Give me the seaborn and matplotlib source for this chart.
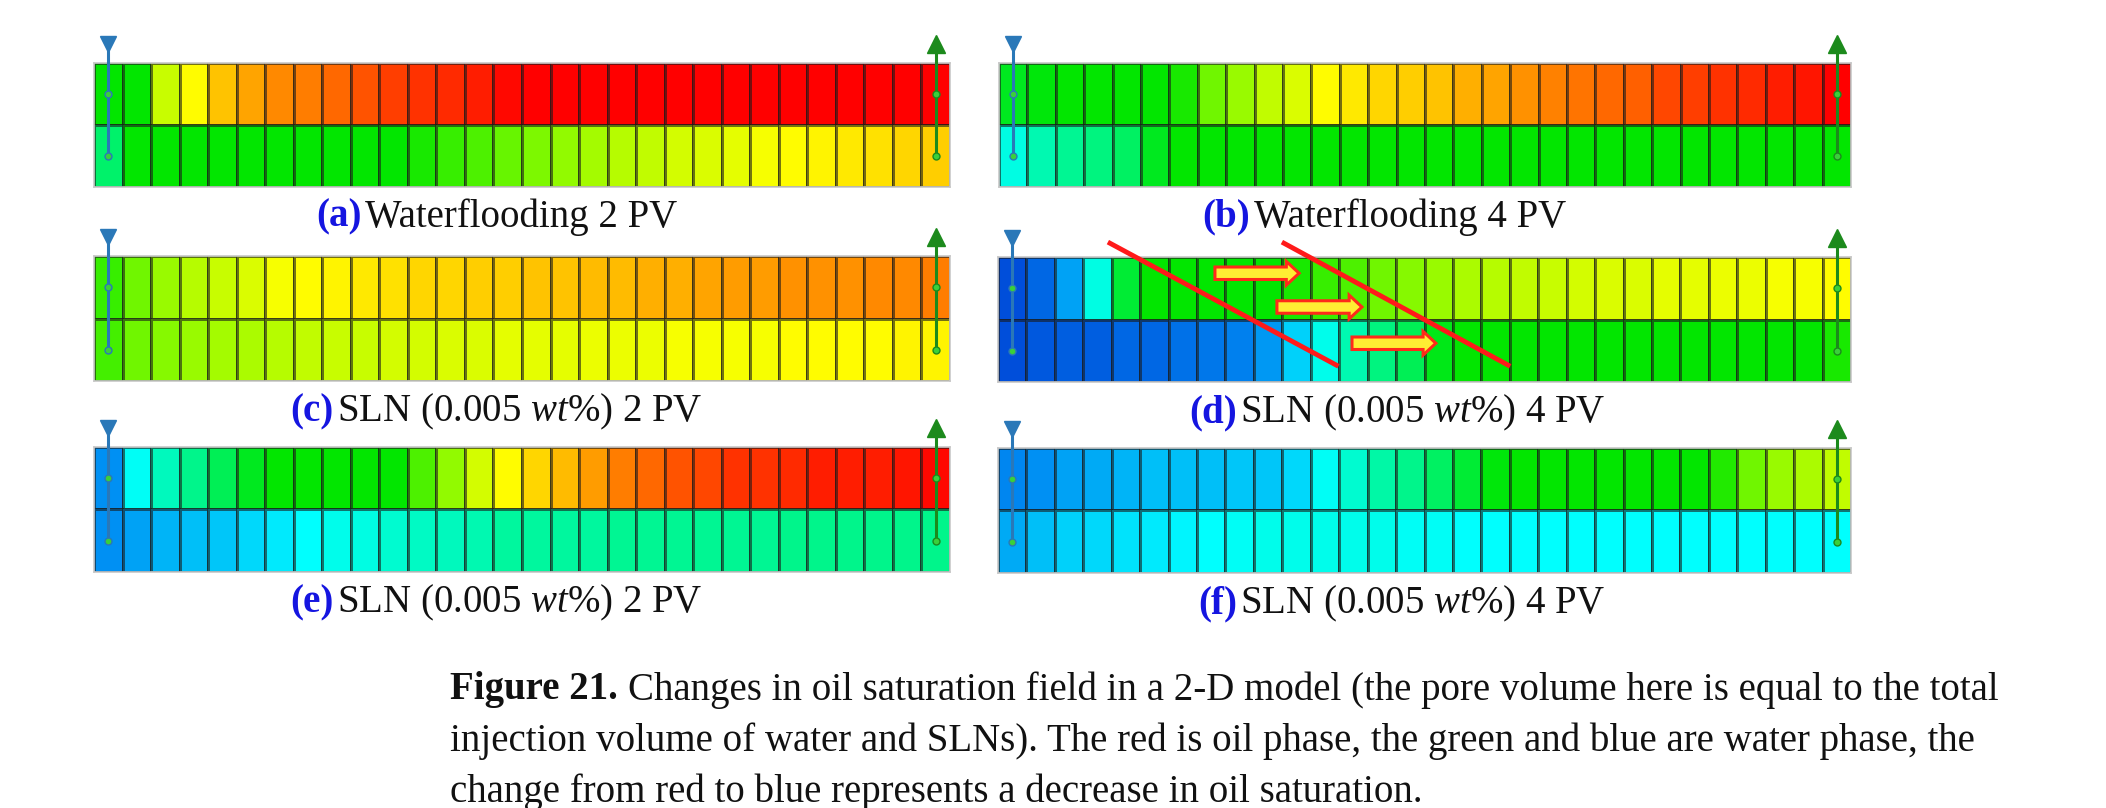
import matplotlib
matplotlib.use("Agg")
import matplotlib.pyplot as plt
import numpy as np
import pandas as pd
import seaborn as sns
from matplotlib.colors import LinearSegmentedColormap
from matplotlib.patches import FancyArrow

# oil saturation per cell, 2 layers x 30 columns
a_top = [0.50, 0.50, 0.69, 0.75, 0.81, 0.84, 0.87, 0.88, 0.90, 0.92, 0.94, 0.95, 0.96, 0.97, 0.99,
         1.00, 1.00, 1.00, 1.00, 1.00, 1.00, 1.00, 1.00, 1.00, 1.00, 1.00, 1.00, 1.00, 1.00, 1.00]
a_bot = [0.40, 0.50, 0.50, 0.50, 0.50, 0.50, 0.50, 0.50, 0.50, 0.50, 0.50, 0.52, 0.55, 0.57, 0.59,
         0.61, 0.63, 0.65, 0.67, 0.68, 0.70, 0.71, 0.72, 0.74, 0.75, 0.76, 0.77, 0.78, 0.79, 0.80]
b_top = [0.47, 0.49, 0.50, 0.50, 0.50, 0.50, 0.52, 0.60, 0.64, 0.68, 0.71, 0.75, 0.77, 0.79, 0.80,
         0.81, 0.83, 0.84, 0.86, 0.875, 0.89, 0.90, 0.91, 0.93, 0.94, 0.95, 0.96, 0.97, 0.98, 1.00]
b_bot = [0.28, 0.33, 0.36, 0.38, 0.41, 0.47, 0.50, 0.50, 0.50, 0.50, 0.50, 0.50, 0.50, 0.50, 0.50,
         0.50, 0.50, 0.50, 0.50, 0.50, 0.50, 0.50, 0.50, 0.50, 0.50, 0.50, 0.50, 0.50, 0.50, 0.50]
c_top = [0.55, 0.60, 0.64, 0.67, 0.69, 0.71, 0.74, 0.75, 0.76, 0.77, 0.78, 0.79, 0.79, 0.80, 0.80,
         0.81, 0.81, 0.82, 0.82, 0.83, 0.83, 0.84, 0.85, 0.85, 0.86, 0.86, 0.86, 0.87, 0.87, 0.88]
c_bot = [0.56, 0.60, 0.62, 0.64, 0.65, 0.66, 0.67, 0.68, 0.69, 0.69, 0.70, 0.70, 0.71, 0.71, 0.72,
         0.72, 0.72, 0.73, 0.73, 0.73, 0.74, 0.74, 0.74, 0.74, 0.75, 0.75, 0.75, 0.75, 0.76, 0.76]
d_top = [0.05, 0.08, 0.15, 0.28, 0.45, 0.50, 0.50, 0.50, 0.50, 0.50, 0.52, 0.55, 0.57, 0.60, 0.62,
         0.64, 0.66, 0.67, 0.68, 0.69, 0.70, 0.71, 0.71, 0.72, 0.72, 0.73, 0.73, 0.74, 0.74, 0.75]
d_bot = [0.05, 0.06, 0.07, 0.07, 0.08, 0.08, 0.09, 0.10, 0.11, 0.14, 0.20, 0.27, 0.33, 0.38, 0.42,
         0.48, 0.50, 0.50, 0.50, 0.50, 0.50, 0.50, 0.50, 0.50, 0.50, 0.50, 0.50, 0.50, 0.50, 0.52]
e_top = [0.13, 0.26, 0.32, 0.37, 0.42, 0.47, 0.50, 0.50, 0.50, 0.50, 0.50, 0.57, 0.63, 0.70, 0.75,
         0.79, 0.82, 0.85, 0.88, 0.90, 0.92, 0.93, 0.95, 0.95, 0.96, 0.97, 0.97, 0.97, 0.98, 0.99]
e_bot = [0.13, 0.15, 0.17, 0.18, 0.19, 0.21, 0.23, 0.25, 0.27, 0.28, 0.30, 0.31, 0.32, 0.33, 0.35,
         0.35, 0.35, 0.35, 0.36, 0.36, 0.36, 0.36, 0.36, 0.36, 0.37, 0.37, 0.37, 0.37, 0.37, 0.37]
f_top = [0.12, 0.13, 0.15, 0.16, 0.17, 0.18, 0.18, 0.18, 0.19, 0.19, 0.21, 0.26, 0.30, 0.34, 0.37,
         0.41, 0.45, 0.49, 0.50, 0.50, 0.50, 0.50, 0.50, 0.50, 0.50, 0.53, 0.60, 0.64, 0.66, 0.68]
f_bot = [0.16, 0.18, 0.20, 0.21, 0.22, 0.23, 0.24, 0.25, 0.26, 0.27, 0.27, 0.27, 0.27, 0.27, 0.26,
         0.26, 0.25, 0.25, 0.25, 0.25, 0.25, 0.25, 0.25, 0.25, 0.25, 0.25, 0.25, 0.25, 0.25, 0.25]

panel_tags = ['(a)', '(b)', '(c)', '(d)', '(e)', '(f)']
panel_titles = ['Waterflooding 2 PV', 'Waterflooding 4 PV',
                'SLN (0.005 $wt$%) 2 PV', 'SLN (0.005 $wt$%) 4 PV',
                'SLN (0.005 $wt$%) 2 PV', 'SLN (0.005 $wt$%) 4 PV']
fields = [(a_top, a_bot), (b_top, b_bot), (c_top, c_bot),
          (d_top, d_bot), (e_top, e_bot), (f_top, f_bot)]

caption_head = 'Figure 21.'
caption = ['Changes in oil saturation field in a 2-D model (the pore volume here is equal to the total',
           'injection volume of water and SLNs). The red is oil phase, the green and blue are water phase, the',
           'change from red to blue represents a decrease in oil saturation.']

plt.rcParams['font.family'] = ['Liberation Serif', 'DejaVu Serif']
plt.rcParams['mathtext.fontset'] = 'custom'
plt.rcParams['mathtext.rm'] = 'Liberation Serif'
plt.rcParams['mathtext.it'] = 'Liberation Serif:italic'
plt.rcParams['mathtext.bf'] = 'Liberation Serif:bold'

cmap = LinearSegmentedColormap.from_list('sat', [
    (0.0, (0.0, 0.16, 0.80)), (0.125, (0.0, 0.55, 0.95)), (0.25, (0.0, 1.0, 1.0)),
    (0.375, (0.0, 0.96, 0.52)), (0.5, (0.0, 0.90, 0.0)), (0.625, (0.55, 0.98, 0.0)),
    (0.75, (1.0, 1.0, 0.0)), (0.875, (1.0, 0.52, 0.0)), (1.0, (1.0, 0.0, 0.0))])

W, H = 2106, 808
fig = plt.figure(figsize=(W / 100, H / 100), dpi=100)
fig.patch.set_facecolor('white')

# pixel boxes (x0, y0, x1, y1) for each panel
boxes = [(94, 63, 950, 187), (999, 63, 1851, 187),
         (94, 256, 950, 381), (998, 257, 1851, 382),
         (94, 447, 950, 572), (998, 448, 1851, 573)]
tag_x = [0.313, 0.295, 0.28, 0.28, 0.28, 0.28]

for i, (top, bot) in enumerate(fields):
    x0, y0, x1, y1 = boxes[i]
    ax = fig.add_axes([x0 / W, 1 - y1 / H, (x1 - x0) / W, (y1 - y0) / H])
    df = pd.DataFrame([top, bot])
    sns.heatmap(df, ax=ax, cmap=cmap, vmin=0, vmax=1, cbar=False,
                linewidths=0.9, linecolor=(0.1, 0.1, 0.1, 0.6),
                xticklabels=False, yticklabels=False)
    for s in ax.spines.values():
        s.set_visible(True)
        s.set_color('#c8c8c8')
        s.set_linewidth(1.2)

    # injection well (left) and production well (right)
    ax.plot([0.5, 0.5], [-0.2, 1.5], color='#2a78b8', lw=2.2, clip_on=False, zorder=5)
    ax.plot([0.5], [-0.3], marker='v', ms=12, color='#2a78b8', clip_on=False, zorder=6)
    ax.plot([29.5, 29.5], [-0.2, 1.5], color='#1c8a1c', lw=2.2, clip_on=False, zorder=5)
    ax.plot([29.5], [-0.3], marker='^', ms=13, color='#1c8a1c', clip_on=False, zorder=6)
    for xw, ec in [(0.5, '#2a78b8'), (29.5, '#1c8a1c')]:
        ax.plot([xw, xw], [0.5, 1.5], ls='none', marker='o', ms=5,
                mfc='#3ad03a', mec=ec, mew=1, clip_on=False, zorder=7)

    ax.text(tag_x[i], -0.245, panel_tags[i], transform=ax.transAxes, ha='right', va='center',
            fontsize=28, color='#1515e0', fontweight='bold')
    ax.text(tag_x[i] + 0.004, -0.245, panel_titles[i], transform=ax.transAxes, ha='left',
            va='center', fontsize=28, color='#111111')

    if i == 3:
        ax.plot([3.94, 11.9], [-0.22, 1.73], color='#ff1a1a', lw=3.5, clip_on=False, zorder=8)
        ax.plot([10.06, 17.94], [-0.22, 1.73], color='#ff1a1a', lw=3.5, clip_on=False, zorder=8)
        for (ax0, ax1, ay) in [(7.63, 10.59, 0.26), (9.81, 12.8, 0.80), (12.45, 15.4, 1.38)]:
            arr = FancyArrow(ax0, ay, ax1 - ax0, 0, width=0.2, head_width=0.38,
                             head_length=0.45, length_includes_head=True,
                             facecolor='#ffee33', edgecolor='#ff2a1a', lw=2.2, zorder=9)
            ax.add_patch(arr)

# caption: bold head, then the rest right after it
renderer = fig.canvas.get_renderer()
head = fig.text(450 / W, 1 - 690 / H, caption_head, ha='left', va='center',
                fontsize=28, fontweight='bold', color='#111111')
hx1 = head.get_window_extent(renderer).x1
fig.text((hx1 + 10) / W, 1 - 690 / H, caption[0], ha='left', va='center',
         fontsize=28, color='#111111')
for k, line in enumerate(caption[1:], start=1):
    fig.text(450 / W, 1 - (690 + 51 * k) / H, line, ha='left', va='center',
             fontsize=28, color='#111111')

fig.savefig('out.png', dpi=100, facecolor='white')
